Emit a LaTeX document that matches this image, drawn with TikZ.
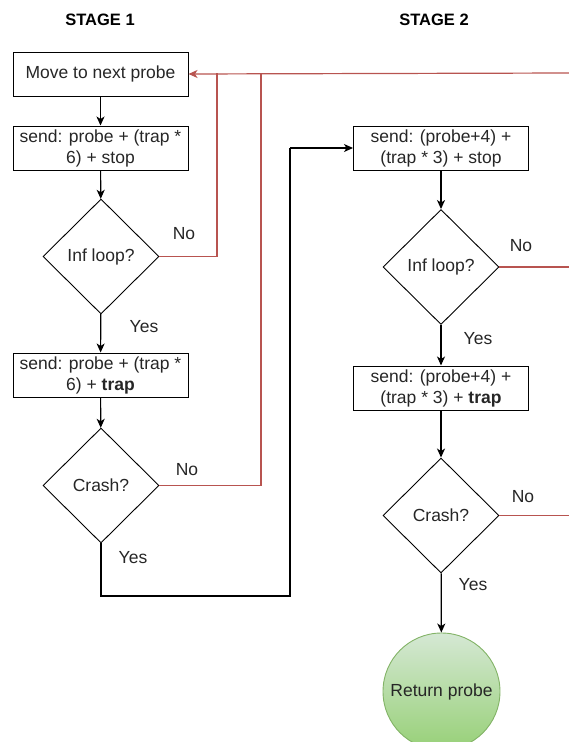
\documentclass[tikz,border=0pt]{standalone}
\usepackage{fontspec}
\setmainfont{Liberation Sans}
\usetikzlibrary{shapes.geometric,arrows.meta}
\definecolor{redline}{HTML}{B85450}
\definecolor{gtop}{HTML}{D5E8D4}
\definecolor{gbot}{HTML}{97D077}
\definecolor{gborder}{HTML}{82B366}
\begin{document}
\begin{tikzpicture}[x=1pt,y=-1pt,
  font=\fontsize{17.5}{21}\selectfont,
  box/.style={draw=black, line width=1pt, minimum width=175pt, minimum height=44pt, inner sep=0pt, align=center, text=black!85},
  dec/.style={draw=black, line width=0.9pt, shape=diamond, minimum width=116pt, minimum height=115pt, inner sep=0pt, text=black!85},
  term/.style={circle, draw=gborder, line width=0.9pt, top color=gtop, bottom color=gbot, minimum size=117pt, inner sep=0pt, text=black!85},
  lbl/.style={inner sep=0pt, text=black!85},
  ttl/.style={inner sep=0pt, font=\fontsize{16.5}{19}\selectfont\bfseries},
  flow/.style={draw=black, line width=1.2pt, -{Stealth[length=9pt,width=8pt,inset=2.5pt]}},
  plain/.style={draw=black, line width=1.2pt},
  back/.style={draw=redline, line width=1.2pt, -{Stealth[length=9pt,width=8pt,inset=2.5pt]}},
  backplain/.style={draw=redline, line width=1.2pt}]
\useasboundingbox (0,0) rectangle (569,742);
\clip (0,0) rectangle (569,742);

% titles
\node[ttl] (t1) at (100,20) {STAGE 1};
\node[ttl] (t2) at (434,20) {STAGE 2};

% stage 1
\node[box] (move) at (100.5,74) {Move to next probe};
\node[box] (s1) at (100.5,148) {send: probe + (trap *\\6) + stop};
\node[dec] (inf1) at (101,256.5) {Inf loop?};
\node[box] (s1t) at (100.5,375) {send: probe + (trap *\\6) + \textbf{trap}};
\node[dec] (cr1) at (101,485.5) {Crash?};

% stage 2
\node[box] (s2) at (441,148) {send: (probe+4) +\\(trap * 3) + stop};
\node[dec] (inf2) at (441,267) {Inf loop?};
\node[box] (s2t) at (441,388) {send: (probe+4) +\\(trap * 3) + \textbf{trap}};
\node[dec] (cr2) at (441,515.5) {Crash?};
\node[term] (ret) at (441.5,691.5) {Return probe};

% labels
\node[lbl] (no1) at (184,234) {No};
\node[lbl] (yes1) at (144,327) {Yes};
\node[lbl] (no2) at (187,470) {No};
\node[lbl] (yes2) at (133,558) {Yes};
\node[lbl] (no3) at (521,246) {No};
\node[lbl] (yes3) at (478,339) {Yes};
\node[lbl] (no4) at (523,497) {No};
\node[lbl] (yes4) at (473,585) {Yes};

% helper coordinates
\coordinate (rin) at (569,73);
\coordinate (r1) at (217,73);
\coordinate (r2) at (261,73);
\coordinate (b1) at (101,596);
\coordinate (b2) at (290,596);
\coordinate (b3) at (290,148);
\coordinate (e3) at (569,267);
\coordinate (e4) at (569,515.5);

% black flow
\draw[flow] (move) -- (s1);
\draw[flow] (s1) -- (inf1);
\draw[flow] (inf1) -- (s1t);
\draw[flow] (s1t) -- (cr1);
\draw[plain] (cr1.south) -- (b1) -- (b2) -- (b3);
\draw[flow] (b3) -- (s2.west);
\draw[flow] (s2) -- (inf2);
\draw[flow] (inf2) -- (s2t);
\draw[flow] (s2t) -- (cr2);
\draw[flow] (cr2) -- (ret);

% red back lines
\draw[backplain] (inf1.east) -| (r1);
\draw[backplain] (cr1.east) -| (r2);
\draw[back] (rin) -- (move.east);
\draw[backplain] (inf2.east) -- (e3);
\draw[backplain] (cr2.east) -- (e4);
\end{tikzpicture}
\end{document}
